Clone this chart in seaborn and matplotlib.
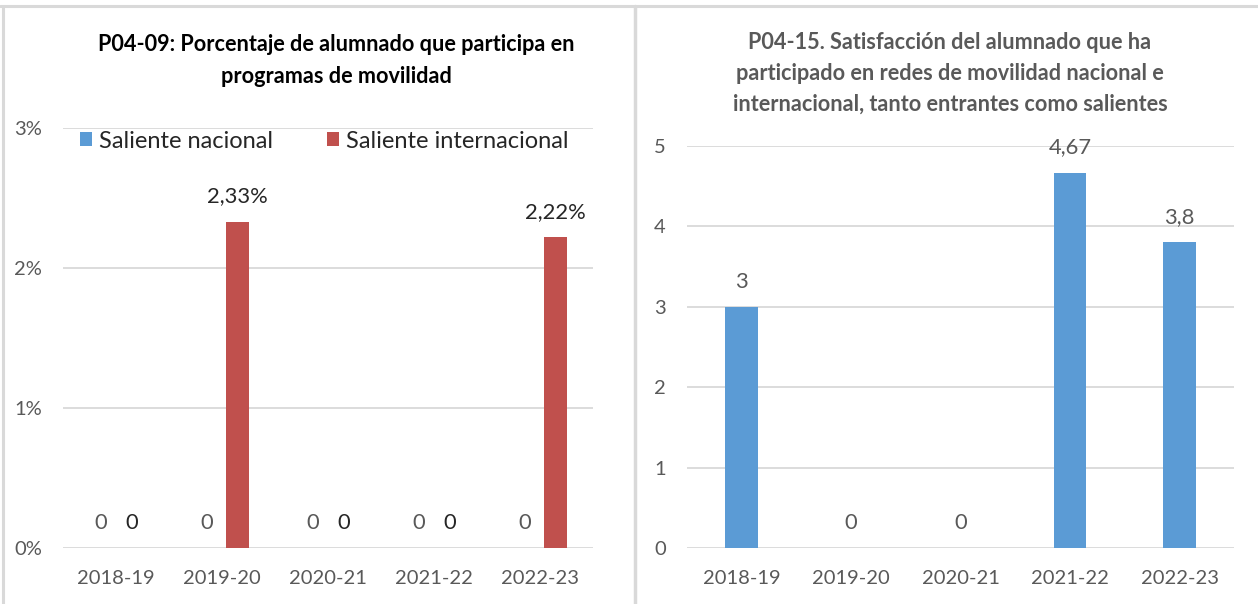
import matplotlib
matplotlib.use("Agg")
import matplotlib.pyplot as plt
import seaborn as sns
import pandas as pd
from matplotlib.lines import Line2D

# ---------------- data ----------------
cursos = ["2018-19", "2019-20", "2020-21", "2021-22", "2022-23"]
series = ["Saliente nacional", "Saliente internacional"]
saliente_nacional = [0, 0, 0, 0, 0]            # %
saliente_internacional = [0, 2.33, 0, 0, 2.22]  # %
satisfaccion = [3, 0, 0, 4.67, 3.8]
pct_ticks = [0, 1, 2, 3]
sat_ticks = [0, 1, 2, 3, 4, 5]

title_left = "P04-09: Porcentaje de alumnado que participa en\nprogramas de movilidad"
title_right = ("P04-15. Satisfacción del alumnado que ha\n"
               "participado en redes de movilidad nacional e\n"
               "internacional, tanto entrantes como salientes")

BLUE = "#5B9BD5"
RED = "#C0504D"
GRID = "#D9D9D9"
TICK = "#595959"

sns.set_style("white")
plt.rcParams["font.family"] = ["Lato", "DejaVu Sans"]

W, H = 1258, 604
fig = plt.figure(figsize=(W / 100, H / 100), dpi=100)


def fx(px):
    return px / W


def fy(py):
    return 1 - py / H


def fmt(v, pct=False):
    if v == 0:
        return "0"
    s = f"{v:g}".replace(".", ",")
    return s + ("%" if pct else "")


# ---------------- left panel ----------------
ax1 = fig.add_axes([fx(63), fy(548), fx(593) - fx(63), fy(128) - fy(548)])
df = pd.DataFrame({
    "curso": cursos * 2,
    "serie": [series[0]] * len(cursos) + [series[1]] * len(cursos),
    "valor": saliente_nacional + saliente_internacional,
})
sns.barplot(data=df, x="curso", y="valor", hue="serie", hue_order=series,
            palette=[BLUE, RED], width=0.585, gap=0.26, saturation=1,
            errorbar=None, linewidth=0, ax=ax1)
ax1.set_xlim(-0.5, len(cursos) - 0.5)
ax1.set_ylim(0, 3)
ax1.set_yticks(pct_ticks)
ax1.set_yticklabels([f"{t}%" for t in pct_ticks])
label_colors = ["#595959", "#262626"]
vals = [saliente_nacional, saliente_internacional]
for cont, v, c in zip(ax1.containers, vals, label_colors):
    ax1.bar_label(cont, labels=[fmt(x, True) for x in v], padding=11,
                  fontsize=15.8, color=c)
handles, labels = ax1.get_legend_handles_labels()
ax1.legend(handles, labels, loc="center", bbox_to_anchor=(fx(324), fy(141)),
           bbox_transform=fig.transFigure, ncol=2, frameon=False,
           fontsize=17, handlelength=0.5, handleheight=0.5,
           handletextpad=0.3, columnspacing=2.3, labelcolor="#262626")
fig.text(fx(336), fy(60.5), title_left, ha="center", va="center",
         fontsize=15.6, fontweight="bold", color="#000000", linespacing=1.6)

# ---------------- right panel ----------------
ax2 = fig.add_axes([fx(686.75), fy(548), fx(1234.25) - fx(686.75), fy(146) - fy(548)])
sns.barplot(x=cursos, y=satisfaccion, color=BLUE, width=0.30, saturation=1,
            errorbar=None, linewidth=0, ax=ax2)
ax2.set_xlim(-0.5, len(cursos) - 0.5)
ax2.set_ylim(0, 5)
ax2.set_yticks(sat_ticks)
ax2.set_yticklabels([str(t) for t in sat_ticks])
ax2.bar_label(ax2.containers[0], labels=[fmt(x) for x in satisfaccion],
              padding=11, fontsize=15.8, color="#595959")
fig.text(fx(950), fy(73.5), title_right, ha="center", va="center",
         fontsize=15.6, fontweight="bold", color="#595959", linespacing=1.57)

# ---------------- styling ----------------
for ax in (ax1, ax2):
    ax.set_xlabel("")
    ax.set_ylabel("")
    for s in ax.spines.values():
        s.set_visible(False)
    ax.grid(axis="y", color=GRID, linewidth=1.3)
    ax.grid(axis="x", visible=False)
    ax.set_axisbelow(True)
    ax.tick_params(axis="both", length=0, labelsize=14.5, labelcolor=TICK)
    ax.tick_params(axis="y", pad=15)
    ax.tick_params(axis="x", pad=16)

# panel borders
fig.add_artist(Line2D([0, 1], [fy(6), fy(6)], transform=fig.transFigure,
                      color=GRID, linewidth=2.2))
fig.add_artist(Line2D([fx(3), fx(3)], [fy(6), 0], transform=fig.transFigure,
                      color=GRID, linewidth=2.2))
fig.add_artist(Line2D([fx(635), fx(635)], [fy(6), 0], transform=fig.transFigure,
                      color=GRID, linewidth=2.5))

fig.savefig("out.png", dpi=100)
